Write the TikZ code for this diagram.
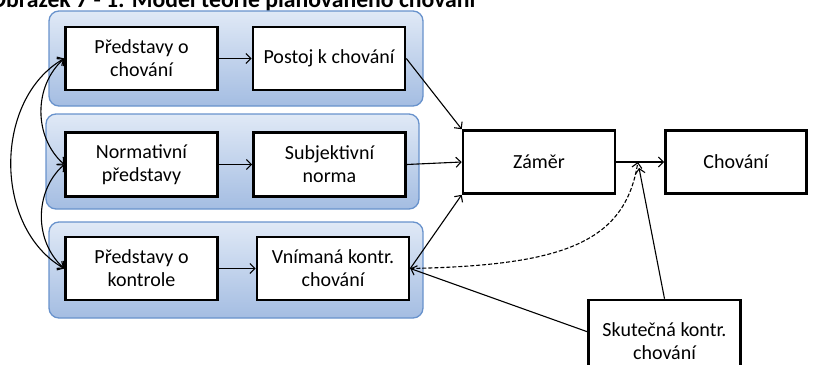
\documentclass[tikz,border=0pt]{standalone}
\usepackage{fontspec}
\setmainfont{Carlito}
\usetikzlibrary{arrows.meta,calc}
\definecolor{panelTop}{RGB}{224,233,246}
\definecolor{panelBot}{RGB}{164,189,226}
\definecolor{panelEdge}{RGB}{104,146,204}
\begin{document}
\begin{tikzpicture}[x=1pt,y=-1pt,
  panel/.style={draw=panelEdge,line width=1.3pt,rounded corners=10pt,
    top color=panelTop,bottom color=panelBot},
  box/.style={draw=black,line width=2.6pt,fill=white,minimum width=152pt,
    minimum height=63pt,align=center,inner sep=2pt,
    font=\fontsize{20}{23}\selectfont},
  tip/.tip={Straight Barb[length=5pt,width=10pt]},
  link/.style={line width=1.1pt,-tip},
  both/.style={line width=1.1pt,tip-tip},
]
\useasboundingbox (0,0) rectangle (813,364);
\clip (0,0) rectangle (813,364);

% caption line above the figure
\node[anchor=base west,inner sep=0pt,font=\fontsize{23.7}{27}\selectfont\bfseries]
  (title) at (-10,7) {Obrázek 7 - 1: Model teorie plánovaného chování};

% grouping panels
\path[panel] (49,11) rectangle (423,106);
\path[panel] (46,114) rectangle (419,209);
\path[panel] (49,222) rectangle (423,318);

% boxes
\node[box] (pc)  at (141.5,58.5) {Představy o\\chování};
\node[box] (pk)  at (329,58.5)   {Postoj k chování};
\node[box,minimum height=64pt] (np) at (141.5,164.5) {Normativní\\představy};
\node[box,minimum height=64pt] (sn) at (329.5,164.5) {Subjektivní\\norma};
\node[box] (pko) at (141.5,268.5) {Představy o\\kontrole};
\node[box] (vk)  at (333,268.5)  {Vnímaná kontr.\\chování};
\node[box] (zam) at (539,162)    {Záměr};
\node[box,minimum width=141pt] (cho) at (736,162) {Chování};
\node[box,minimum height=82pt] (sk) at (664.5,341) {Skutečná kontr.\\chování};

% links inside the panels
\draw[link] (pc) -- (pk);
\draw[link] (np) -- (sn);
\draw[link] (pko) -- (vk);

% correlations between the belief boxes
\draw[both] (pc.west) to[bend right=60] (pko.west);
\draw[both] (pc.west) to[bend right=48] (np.west);
\draw[both] (np.west) to[bend right=48] (pko.west);

% paths to intention and behaviour
\draw[link] (pk.east) -- (zam.north west);
\draw[link] (sn.east) -- (zam.west);
\draw[link] (vk.east) -- (zam.south west);
\draw[link] (zam) -- (cho);
\coordinate (join) at ($(zam.east)!0.45!(cho.west)$);
\draw[link,dash pattern=on 4pt off 2pt] (vk.east) .. controls +(150,-3) and +(-13,82) .. (join);
\draw[link,shorten >=6pt] (sk.north) -- (join);
\draw[link] ([yshift=-33pt]sk.north west) -- (vk.east);
\end{tikzpicture}
\end{document}
